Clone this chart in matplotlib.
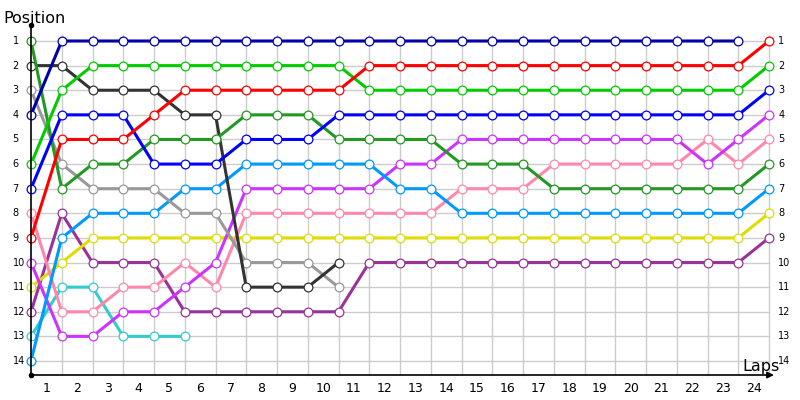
import matplotlib
matplotlib.use('Agg')
import matplotlib.pyplot as plt

# posiciones por vuelta (indice 0 = salida)
navy = [4, 1, 1, 1, 1, 1, 1, 1, 1, 1, 1, 1, 1, 1, 1, 1, 1, 1, 1, 1, 1, 1, 1, 1]
red = [9, 5, 5, 5, 4, 3, 3, 3, 3, 3, 3, 2, 2, 2, 2, 2, 2, 2, 2, 2, 2, 2, 2, 2, 1]
green = [6, 3, 2, 2, 2, 2, 2, 2, 2, 2, 2, 3, 3, 3, 3, 3, 3, 3, 3, 3, 3, 3, 3, 3, 2]
blue = [7, 4, 4, 4, 6, 6, 6, 5, 5, 5, 4, 4, 4, 4, 4, 4, 4, 4, 4, 4, 4, 4, 4, 4, 3]
dgreen = [1, 7, 6, 6, 5, 5, 5, 4, 4, 4, 5, 5, 5, 5, 6, 6, 6, 7, 7, 7, 7, 7, 7, 7, 6]
black = [2, 2, 3, 3, 3, 4, 4, 11, 11, 11, 10]
gray = [3, 6, 7, 7, 7, 8, 8, 10, 10, 10, 11]
lblue = [14, 9, 8, 8, 8, 7, 7, 6, 6, 6, 6, 6, 7, 7, 8, 8, 8, 8, 8, 8, 8, 8, 8, 8, 7]
violet = [10, 13, 13, 12, 12, 11, 10, 7, 7, 7, 7, 7, 6, 6, 5, 5, 5, 5, 5, 5, 5, 5, 6, 5, 4]
pink = [8, 12, 12, 11, 11, 10, 11, 8, 8, 8, 8, 8, 8, 8, 7, 7, 7, 6, 6, 6, 6, 6, 5, 6, 5]
yellow = [11, 10, 9, 9, 9, 9, 9, 9, 9, 9, 9, 9, 9, 9, 9, 9, 9, 9, 9, 9, 9, 9, 9, 9, 8]
purple = [12, 8, 10, 10, 10, 12, 12, 12, 12, 12, 12, 10, 10, 10, 10, 10, 10, 10, 10, 10, 10, 10, 10, 10, 9]
teal = [13, 11, 11, 13, 13, 13]

series = [
    (teal, '#33CCCC'),
    (purple, '#993399'),
    (yellow, '#DDDD00'),
    (pink, '#FF88AA'),
    (violet, '#CC33FF'),
    (lblue, '#0099FF'),
    (gray, '#999999'),
    (black, '#333333'),
    (dgreen, '#229922'),
    (blue, '#0000FF'),
    (green, '#00CC00'),
    (red, '#FF0000'),
    (navy, '#0000AA'),
]

vueltas = list(range(1, 25))
posiciones = list(range(1, 15))

fig = plt.figure(figsize=(8, 4), dpi=100)
ax = fig.add_axes([0, 0, 1, 1])
ax.set_xlim(-31 / 30.75, 769 / 30.75)
ax.set_ylim(1 + 359 / 24.615, 1 - 41 / 24.615)
ax.axis('off')

# grilla
for p in posiciones:
    ax.plot([0, 24], [p, p], color='#CCCCCC', lw=1, zorder=1)
for v in vueltas:
    ax.plot([v, v], [0.75, 14.57], color='#CCCCCC', lw=1, zorder=1)

# ejes
ax.plot([0, 0], [0.35, 14.57], color='black', lw=1.2, zorder=5)
ax.plot([0, 24.0], [14.57, 14.57], color='black', lw=1.2, zorder=5)
ax.annotate('', xy=(24.25, 14.57), xytext=(23.9, 14.57),
            arrowprops=dict(arrowstyle='-|>', color='black', lw=1, mutation_scale=10), zorder=5)
ax.plot([0], [0.35], 'o', color='black', ms=3, zorder=6)
ax.plot([0], [14.57], 'o', color='black', ms=3, zorder=6)

for datos, c in series:
    x = list(range(len(datos)))
    ax.plot(x, datos, color=c, lw=2.2, marker='o', ms=6.3, mfc='white', mec=c, mew=0.9,
            zorder=3)

for p in posiciones:
    ax.text(-0.6, p, str(p), fontsize=7, ha='left', va='center')
    ax.text(24.3, p, str(p), fontsize=7, ha='left', va='center')
for v in vueltas:
    ax.text(v - 0.5, 15.1, str(v), fontsize=9, ha='center', va='center')

ax.text(-0.91, 0.25, 'Position', fontsize=11.5, ha='left', va='baseline')
ax.text(23.12, 14.4, 'Laps', fontsize=11.5, ha='left', va='baseline')

plt.savefig('out.png', dpi=100)
